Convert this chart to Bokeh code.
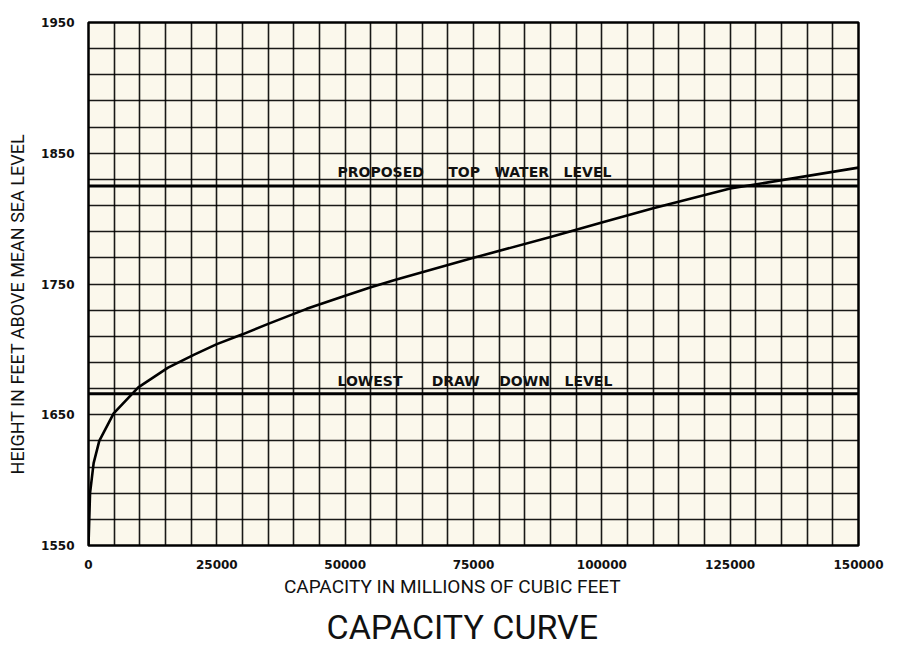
from bokeh.plotting import figure
from bokeh.models import FixedTicker, Title, Range1d
from bokeh.core.properties import value
from bokeh.embed import file_html
from bokeh.resources import INLINE

# ---- data ----
capacity = [0, 300, 1000, 2100, 4900, 9700, 15500, 20600, 25000, 30000, 35000,
            42500, 50000, 55000, 60000, 75000, 90000, 100000, 110000, 125000, 150000]
height = [1550, 1590, 1613, 1630, 1651, 1671, 1686, 1696, 1704, 1711.5, 1719.5,
          1731, 1741, 1747.5, 1753.5, 1770, 1786, 1797, 1808, 1823, 1839]

top_water_level = 1825
lowest_draw_down = 1666
label_x = 48500
top_words = ["PROPOSED", "TOP", "WATER", "LEVEL"]
low_words = ["LOWEST", "DRAW", "DOWN", "LEVEL"]

x_ticks = [0, 25000, 50000, 75000, 100000, 125000, 150000]
x_tick_labels = ["0", "25000", "50000", "75000", "100000", "125000", "150000"]
y_ticks = [1550, 1650, 1750, 1850, 1950]
y_tick_labels = ["1550", "1650", "1750", "1850", "1950"]
x_grid = list(range(0, 150001, 5000))
y_grid = list(range(1550, 1951, 20))

FONT = "Liberation Sans Narrow, Roboto, sans-serif"
NB = "\u00a0"

p = figure(frame_width=770, frame_height=523, output_backend="svg", toolbar_location=None,
           x_range=Range1d(0, 150000), y_range=Range1d(1550, 1950),
           min_border_left=88, min_border_right=30, min_border_top=22, min_border_bottom=8)

p.background_fill_color = "#fbf8ec"
p.border_fill_color = "white"
p.outline_line_color = "black"
p.outline_line_width = 2.5

p.xgrid.ticker = FixedTicker(ticks=x_grid)
p.ygrid.ticker = FixedTicker(ticks=y_grid)
for g in (p.xgrid, p.ygrid):
    g.grid_line_color = "black"
    g.grid_line_width = 1.6
    g.grid_line_alpha = 0.9

p.xaxis.ticker = FixedTicker(ticks=x_ticks)
p.yaxis.ticker = FixedTicker(ticks=y_ticks)
p.xaxis.major_label_overrides = {t: l for t, l in zip(x_ticks, x_tick_labels)}
p.yaxis.major_label_overrides = {t: l for t, l in zip(y_ticks, y_tick_labels)}

for ax in (p.xaxis, p.yaxis):
    ax.axis_line_color = None
    ax.major_tick_line_color = None
    ax.minor_tick_line_color = None
    ax.major_label_text_font = "DejaVu Sans"
    ax.major_label_text_font_style = "bold"
    ax.major_label_text_font_size = "12px"
    ax.major_label_text_color = "#111111"
    ax.major_label_standoff = 8
    ax.axis_label_text_font = FONT
    ax.axis_label_text_font_style = "normal"
    ax.axis_label_text_color = "#111111"

p.xaxis.axis_label = "CAPACITY IN MILLIONS OF CUBIC FEET" + NB * 9
p.xaxis.axis_label_text_font_size = "19px"
p.yaxis.axis_label = "HEIGHT IN FEET ABOVE MEAN SEA LEVEL" + NB * 9
p.yaxis.axis_label_text_font_size = "18px"
p.xaxis.axis_label_standoff = 3
p.yaxis.axis_label_standoff = 10
p.yaxis.major_label_orientation = "horizontal"

# reference levels
p.line([0, 150000], [top_water_level, top_water_level], line_color="black", line_width=3)
p.line([0, 150000], [lowest_draw_down, lowest_draw_down], line_color="black", line_width=3)

top_text = top_words[0] + NB * 5 + top_words[1] + NB * 3 + top_words[2] + NB * 3 + top_words[3]
low_text = low_words[0] + NB * 6 + low_words[1] + NB * 4 + low_words[2] + NB * 3 + low_words[3]
p.text(x=[label_x], y=[top_water_level], text=[top_text],
       text_font=value("DejaVu Sans"), text_font_style="bold", text_font_size="14px",
       text_baseline="bottom", text_align="left", y_offset=-6, text_color="#111111")
p.text(x=[label_x], y=[lowest_draw_down], text=[low_text],
       text_font=value("DejaVu Sans"), text_font_style="bold", text_font_size="14px",
       text_baseline="bottom", text_align="left", y_offset=-5, text_color="#111111")

# capacity curve
p.line(capacity, height, line_color="black", line_width=2.6)

title = Title(text="CAPACITY CURVE", align="left", text_font=FONT,
              text_font_size="34px", text_font_style="normal", text_color="#111111",
              standoff=8, offset=238)
p.add_layout(title, "below")

open("out.html", "w").write(file_html(p, INLINE))
